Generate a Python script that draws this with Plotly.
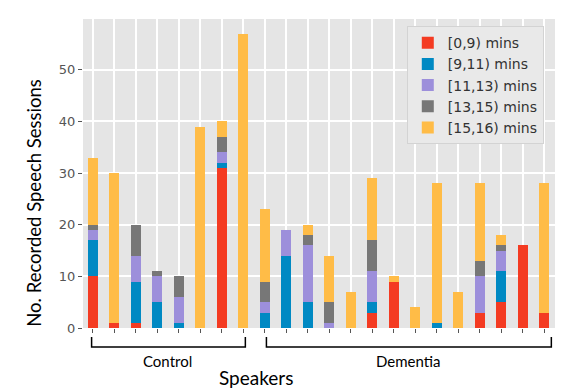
import plotly.graph_objects as go

# sessions per speaker, split by recording length
speakers = list(range(22))  # 8 control + 14 dementia
red = [10, 1, 1, 0, 0, 0, 31, 0, 0, 0, 0, 0, 0, 3, 9, 0, 0, 0, 3, 5, 16, 3]
blue = [7, 0, 8, 5, 1, 0, 1, 0, 3, 14, 5, 0, 0, 2, 0, 0, 1, 0, 0, 6, 0, 0]
purple = [2, 0, 5, 5, 5, 0, 2, 0, 2, 5, 11, 1, 0, 6, 0, 0, 0, 0, 7, 4, 0, 0]
gray = [1, 0, 6, 1, 4, 0, 3, 0, 4, 0, 2, 4, 0, 6, 0, 0, 0, 0, 3, 1, 0, 0]
yellow = [13, 29, 0, 0, 0, 39, 3, 57, 14, 0, 2, 9, 7, 12, 1, 4, 27, 7, 15, 2, 0, 25]

series = [
    ("[0,9) mins", red, "#F43B22"),
    ("[9,11) mins", blue, "#0089C3"),
    ("[11,13) mins", purple, "#9D8FDB"),
    ("[13,15) mins", gray, "#777777"),
    ("[15,16) mins", yellow, "#FFBC47"),
]

fig = go.Figure()
for name, vals, col in series:
    fig.add_trace(go.Bar(x=speakers, y=vals, name=name, width=0.46,
                         marker=dict(color=col, line=dict(width=0))))

fig.update_layout(
    width=581, height=390,
    margin=dict(l=83, r=26, t=19, b=62),
    barmode="stack",
    plot_bgcolor="#E5E5E5",
    paper_bgcolor="white",
    font=dict(family="DejaVu Sans", color="#555555"),
    showlegend=True,
    legend=dict(x=0.686, y=0.977, xanchor="left", yanchor="top",
                bgcolor="#E9E9E9", bordercolor="#D3D3D3", borderwidth=1,
                font=dict(size=14, color="#333333"), traceorder="normal"),
)
fig.update_xaxes(range=[-0.45, 21.5], tickvals=speakers, showticklabels=False,
                 ticks="outside", ticklen=4, tickcolor="#555555",
                 gridcolor="white", gridwidth=1.5, zeroline=False, showline=False)
fig.update_yaxes(range=[0, 59.85], tickvals=[0, 10, 20, 30, 40, 50],
                 ticks="outside", ticklen=4, tickcolor="#555555",
                 tickfont=dict(size=13, color="#555555"),
                 gridcolor="white", gridwidth=1.5, zeroline=False, showline=False)

# group brackets under the x axis
line = dict(color="black", width=1.5)
for x0, x1 in [(-0.05, 7.1), (8.08, 21.33)]:
    fig.add_shape(type="path", xref="x", yref="paper", line=line,
                  path=f"M {x0},-0.029 L {x0},-0.0615 L {x1},-0.0615 L {x1},-0.029")

txt = dict(showarrow=False, xanchor="center", yanchor="middle")
fig.add_annotation(x=3.5, y=-0.107, xref="x", yref="paper", text="Control",
                   font=dict(family="Lato", size=15, color="black"), **txt)
fig.add_annotation(x=14.66, y=-0.107, xref="x", yref="paper", text="Dementia",
                   font=dict(family="Lato", size=15, color="black"), **txt)
fig.add_annotation(x=0.367, y=-0.16, xref="paper", yref="paper", text="Speakers",
                   font=dict(family="Lato", size=19, color="black"), **txt)
fig.add_annotation(x=-0.104, y=0.405, xref="paper", yref="paper",
                   text="No. Recorded Speech Sessions", textangle=-90,
                   font=dict(family="Lato", size=18.5, color="black"), **txt)

# drop the default page margin so the figure sits at the window origin
fig.write_html("out.html", config={"displayModeBar": False},
               post_script="document.body.style.margin='0';")
